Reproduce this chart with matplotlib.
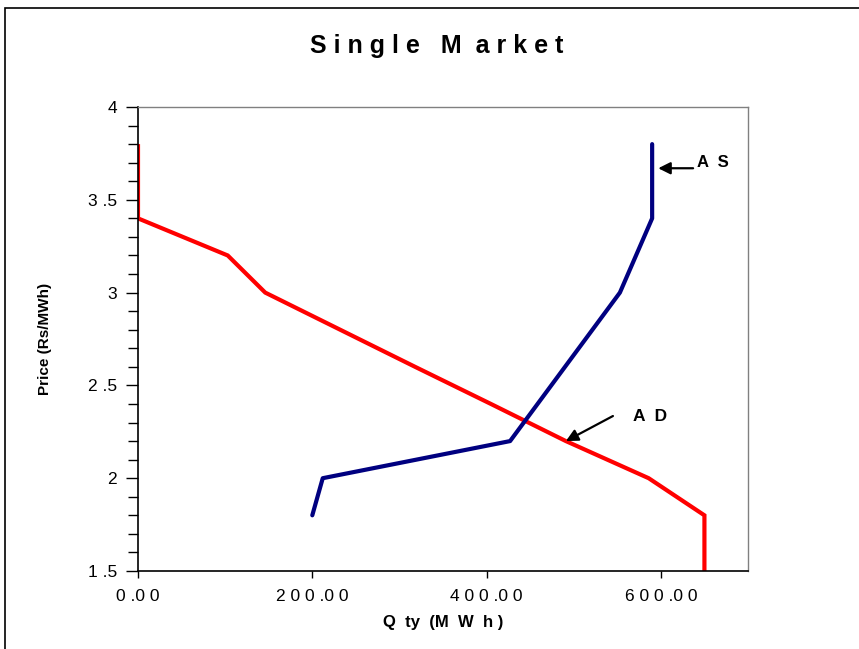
import matplotlib.pyplot as plt
from matplotlib.patches import Rectangle
from matplotlib.ticker import MultipleLocator, FixedLocator

plt.rcParams['font.family'] = ['Liberation Sans', 'DejaVu Sans']

# aggregate demand (red) and aggregate supply (blue) curves
ad_qty = [0, 0, 103, 146, 232, 318, 405, 491, 586, 650, 650]
ad_price = [3.8, 3.4, 3.2, 3.0, 2.8, 2.6, 2.4, 2.2, 2.0, 1.8, 1.5]

as_qty = [200, 212, 427, 553, 590, 590]
as_price = [1.8, 2.0, 2.2, 3.0, 3.4, 3.8]

x_ticks = [0, 200, 400, 600]
x_labels = ["0 .0 0", "2 0 0 .0 0", "4 0 0 .0 0", "6 0 0 .0 0"]
y_ticks = [1.5, 2, 2.5, 3, 3.5, 4]
y_labels = ["1 .5", "2", "2 .5", "3", "3 .5", "4"]

fig = plt.figure(figsize=(8.59, 6.49), dpi=100)
# outer chart border
fig.patches.append(Rectangle((5 / 859, -0.1), 1.2, 0.1 + 1 - 8 / 649,
                             transform=fig.transFigure, fill=False,
                             edgecolor='black', lw=1.2))

ax = fig.add_axes([138 / 859, 1 - 571 / 649, (748 - 138) / 859, (571 - 107) / 649])

ax.plot(ad_qty, ad_price, color='#FF0000', lw=3, solid_joinstyle='miter', solid_capstyle='butt')
ax.plot(as_qty, as_price, color='#000080', lw=3, solid_capstyle='round')

ax.set_xlim(0, 700)
ax.set_ylim(1.5, 4)
ax.xaxis.set_major_locator(FixedLocator(x_ticks))
ax.set_xticklabels(x_labels)
ax.yaxis.set_major_locator(FixedLocator(y_ticks))
ax.set_yticklabels(y_labels)
ax.yaxis.set_minor_locator(MultipleLocator(0.1))

ax.tick_params(axis='both', direction='out', labelsize=12.5, colors='black')
ax.tick_params(axis='y', which='major', length=9, width=1, pad=6)
ax.tick_params(axis='y', which='minor', length=7, width=1)
ax.tick_params(axis='x', which='major', length=5, width=1, pad=8)

for side in ['top', 'right']:
    ax.spines[side].set_color('#808080')
    ax.spines[side].set_linewidth(1)
for side in ['left', 'bottom']:
    ax.spines[side].set_color('black')
    ax.spines[side].set_linewidth(1.2)

ax.set_xlabel("Q  ty  (M  W  h )", fontsize=12, fontweight='bold', labelpad=8)
ax.set_ylabel("Price (Rs/MWh)", fontsize=11, fontweight='bold', labelpad=26)

fig.text(437 / 859, 1 - 46 / 649, "S i n g l e   M  a r k e t", ha='center', va='center',
         fontsize=18, fontweight='bold')

arrow = dict(arrowstyle='-|>', color='black', lw=1.6, mutation_scale=18, shrinkA=0, shrinkB=0)
ax.annotate('', xy=(597, 3.67), xytext=(637, 3.67), arrowprops=arrow)
ax.text(642, 3.70, "A  S", fontsize=12, fontweight='bold', va='center', ha='left')
ax.annotate('', xy=(491, 2.2), xytext=(545, 2.335), arrowprops=arrow)
ax.text(568, 2.335, "A  D", fontsize=12.5, fontweight='bold', va='center', ha='left')

fig.savefig("out.png", dpi=100)
